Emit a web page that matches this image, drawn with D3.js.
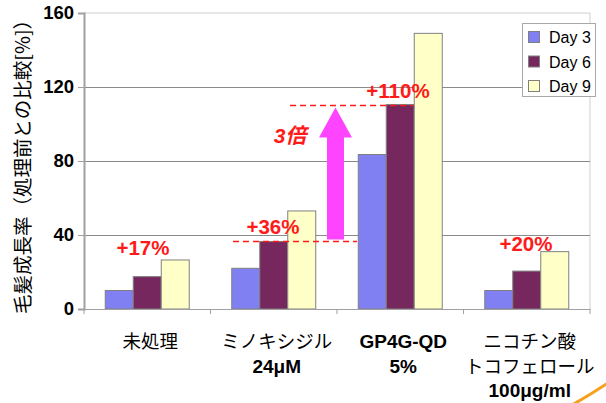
<!DOCTYPE html>
<html><head><meta charset="utf-8">
<script src="https://cdn.jsdelivr.net/npm/d3@7"></script>
<style>body{margin:0;background:#fff}svg{display:block}</style>
</head><body>
<svg id="c" width="606" height="403"></svg>
<script>
const categories = [["未処理"], ["ミノキシジル","24μM"], ["GP4G-QD","5%"], ["ニコチン酸","トコフェロール","100μg/ml"]];
const boldLines = [[false],[false,true],[true,true],[false,false,true]];
const seriesNames = ["Day 3","Day 6","Day 9"];
const day3 = [10, 22, 83.5, 10];
const day6 = [17.5, 36.5, 110.5, 20.5];
const day9 = [26.5, 53, 149, 31];
const yTicks = [0, 40, 80, 120, 160];
const annotations = ["+17%", "+36%", "+110%", "+20%"];
const yTitle = "毛髪成長率（処理前との比較[%]）";
const colors = ["#8080f2", "#76285e", "#ffffc8"];

const svg = d3.select("#c");
const L = 84, R = 590, T = 13, B = 309;
const x = d3.scaleBand().domain(d3.range(categories.length)).range([L, R]).paddingInner(0).paddingOuter(0);
const x1 = d3.scaleBand().domain(d3.range(3)).range([0, 84]);
const off = (x.bandwidth() - 84) / 2;
const y = d3.scaleLinear().domain([0, 160]).range([B, T]);
const series = [day3, day6, day9];
const FONT = "Liberation Sans, Arial, 'Noto Sans CJK JP', sans-serif";
const JFONT = "'Noto Sans CJK JP', sans-serif";

// top/right border
svg.append("line").attr("x1", L).attr("x2", R).attr("y1", y(160)).attr("y2", y(160)).attr("stroke", "#cfcfcf").attr("stroke-width", 1);
svg.append("line").attr("x1", R).attr("x2", R).attr("y1", y(160)).attr("y2", B).attr("stroke", "#cfcfcf").attr("stroke-width", 1);
// gridlines
svg.selectAll(".grid").data(yTicks.filter(t => t > 0 && t < 160)).enter().append("line")
  .attr("x1", L).attr("x2", R).attr("y1", d => y(d) + 0.5).attr("y2", d => y(d) + 0.5)
  .attr("stroke", "#8a8a8a").attr("stroke-width", 1);

// bars
series.forEach((s, si) => {
  svg.append("g").selectAll("rect").data(s).enter().append("rect")
    .attr("x", (d, i) => x(i) + off + x1(si))
    .attr("y", d => y(d))
    .attr("width", x1.bandwidth())
    .attr("height", d => B - y(d))
    .attr("fill", colors[si]).attr("stroke", "#808080").attr("stroke-width", 1);
});

// y axis
const yAxis = d3.axisLeft(y).tickValues(yTicks).tickSize(6).tickPadding(4);
const gy = svg.append("g").attr("transform", `translate(${L},0)`).call(yAxis);
gy.select(".domain").attr("stroke", "#a0a0a0").attr("stroke-width", 2);
gy.selectAll(".tick line").attr("stroke", "#a0a0a0");
gy.selectAll("text").attr("font-family", FONT).attr("font-size", 18.5).attr("font-weight", "bold").attr("fill", "#000");

// x axis
const xAxis = d3.axisBottom(x).tickValues([]).tickSize(0);
const gx = svg.append("g").attr("transform", `translate(0,${B})`).call(xAxis);
gx.select(".domain").attr("stroke", "#a0a0a0").attr("stroke-width", 1);
const tickXs = d3.range(categories.length + 1).map(i => i < categories.length ? x(i) : R);
svg.selectAll(".xt").data(tickXs).enter().append("line")
  .attr("x1", d => d).attr("x2", d => d).attr("y1", B).attr("y2", B + 5).attr("stroke", "#a0a0a0");

// x labels
categories.forEach((lines, i) => {
  lines.forEach((t, j) => {
    const b = boldLines[i][j];
    svg.append("text").attr("x", x(i) + x.bandwidth() / 2 + 3).attr("y", 348 + j * 24.5)
      .attr("text-anchor", "middle").attr("font-family", b ? FONT : JFONT).attr("font-size", b ? 19 : 18.5)
      .attr("font-weight", b ? "bold" : "normal").attr("fill", "#000").text(t);
  });
});

// y title
svg.append("text").attr("transform", `translate(30,${(T + B) / 2 + 1}) rotate(-90)`)
  .attr("text-anchor", "middle").attr("font-family", JFONT).attr("font-size", 19.5)
  .attr("fill", "#000").text(yTitle);

// legend
const lg = svg.append("g");
lg.append("rect").attr("x", 522.5).attr("y", 23.5).attr("width", 73).attr("height", 73)
  .attr("fill", "#fff").attr("stroke", "#a8a8a8");
seriesNames.forEach((n, i) => {
  const cy = 37 + i * 24.5;
  lg.append("rect").attr("x", 528.5).attr("y", cy - 5.5).attr("width", 11).attr("height", 11)
    .attr("fill", colors[i]).attr("stroke", "#808080");
  lg.append("text").attr("x", 549).attr("y", cy + 6).attr("font-family", FONT).attr("font-size", 16)
    .attr("fill", "#000").text(n);
});

// dashed lines
const red = "#ff1a1a";
svg.append("line").attr("x1", 233).attr("x2", 357).attr("y1", Math.round(y(day6[1])) + 0.5).attr("y2", Math.round(y(day6[1])) + 0.5)
  .attr("stroke", red).attr("stroke-width", 1.3).attr("stroke-dasharray", "6,4");
svg.append("line").attr("x1", 290).attr("x2", 413).attr("y1", Math.round(y(day6[2])) + 0.5).attr("y2", Math.round(y(day6[2])) + 0.5)
  .attr("stroke", red).attr("stroke-width", 1.3).attr("stroke-dasharray", "6,4");

// arrow
const ax = 335.5, ayTop = y(day6[2]) + 3, ayBot = y(day6[1]) - 2;
svg.append("path").attr("d", `M${ax - 8.5},${ayBot} L${ax - 8.5},${ayTop + 30} L${ax - 16.5},${ayTop + 30} L${ax},${ayTop} L${ax + 16.5},${ayTop + 30} L${ax + 8.5},${ayTop + 30} L${ax + 8.5},${ayBot} Z`)
  .attr("fill", "#ff44ff");
svg.append("text").attr("x", 290).attr("y", 143).attr("text-anchor", "middle").attr("font-family", FONT)
  .attr("font-size", 21).attr("font-weight", "bold").attr("font-style", "italic").attr("fill", red).text("3倍");

// annotations
const annPos = [[143, 255], [273, 234], [398, 98], [526, 251]];
annotations.forEach((a, i) => {
  svg.append("text").attr("x", annPos[i][0]).attr("y", annPos[i][1]).attr("text-anchor", "middle")
    .attr("font-family", FONT).attr("font-size", 20.5).attr("font-weight", "bold").attr("fill", red).text(a);
});

// decorative orange curve
svg.append("path").attr("d", "M572,405 Q590,395 608,383").attr("fill", "none").attr("stroke", "#f7a01e").attr("stroke-width", 3);
</script>
</body></html>
